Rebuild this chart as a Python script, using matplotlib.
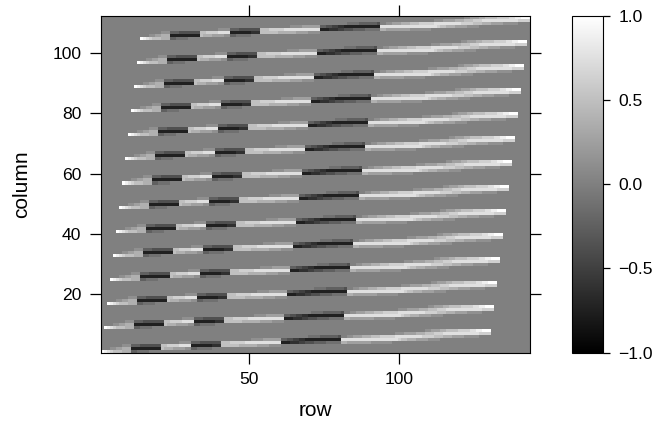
import numpy as np
import matplotlib
matplotlib.use("Agg")
import matplotlib.pyplot as plt

plt.rcParams['font.family'] = ['Liberation Sans', 'DejaVu Sans']

# shape of the matrix
n_rows = 143
n_cols = 112

# where each of the bands starts (row, column)
band_rows = [1, 2, 3, 4, 5, 6, 7, 8, 9, 10, 11, 12, 13, 14]
band_cols = [1, 9, 17, 25, 33, 41, 49, 57, 65, 73, 81, 89, 97, 105]

# grey levels of one band, one string per column, 0 = -1, 8 = 0, g = +1
col0 = "gfedcccbbb" + "6677778888" + "8" * 110
col1 = "88899aabbb" + "2222222222" + "cbbbaaaa99" + "6677777888" + "8" * 90
col2 = "8888888999" + "6665555555" + "ccddddeeee" + "2222222333" + "ccccccbbbbbbaaaa9999" + "8" * 70
col3 = "8" * 20 + "8888889999" + "6665555555" + "cccdddddeeeeeeeeeeee" + "22233344555666677777" + "bbaaaaaaaa9999999888" + "8" * 30
col4 = "8" * 40 + "88888888889999aaaaaa" + "66554433222222222222" + "eeeeeeeeeeeeeeeeeeedccbbbaaaa9999" + "8" * 17
col5 = "8" * 60 + "88888888877776666665" + "8899aaabbbcccdddddeeeeeeeeeddddcccbbbaaaa999998888"
col6 = "8" * 80 + "8" * 18 + "999aaaabbbcccdddeeeeeeeeeeeedddd"
col7 = "8" * 80 + "8" * 28 + "99aaabbccccddddeeffggg"
band = [col0, col1, col2, col3, col4, col5, col6, col7]

x_ticks = [50, 100]
y_ticks = [20, 40, 60, 80, 100]
bar_ticks = [-1.0, -0.5, 0.0, 0.5, 1.0]

mat = np.zeros((n_cols, n_rows))
for r0, c0 in zip(band_rows, band_cols):
    for j, s in enumerate(band):
        for i, ch in enumerate(s):
            mat[c0 - 1 + j, r0 - 1 + i] = (int(ch, 17) - 8) / 8.

W, H = 667., 429.
fig = plt.figure(figsize=(W / 100, H / 100), dpi=100)
ax = fig.add_axes([100.5 / W, 1 - 352.7 / H, 429. / W, 337. / H])
im = ax.imshow(mat, origin='lower', cmap='gray', vmin=-1, vmax=1, aspect='auto',
               interpolation='nearest', extent=(0.5, n_rows + 0.5, 0.5, n_cols + 0.5))

ax.set_xticks(x_ticks)
ax.set_yticks(y_ticks)
ax.tick_params(top=True, right=True, length=7.7, width=0.9, labelsize=12.6, pad=6)
ax.set_xlabel("row", fontsize=15, va='center')
ax.set_ylabel("column", fontsize=15, va='center')
ax.xaxis.set_label_coords(0.5, (352.7 - 411) / 337.)
ax.yaxis.set_label_coords((22 - 100.5) / 429., 0.5)

# colour key
cax = fig.add_axes([571.5 / W, 1 - 352.7 / H, 31. / W, 337. / H])
cb = fig.colorbar(im, cax=cax, ticks=bar_ticks)
cb.ax.tick_params(length=5.3, width=0.9, labelsize=12.6, pad=6)
cb.ax.set_yticklabels(["\u22121.0", "\u22120.5", "0.0", "0.5", "1.0"])

fig.savefig("out.png", dpi=100)
